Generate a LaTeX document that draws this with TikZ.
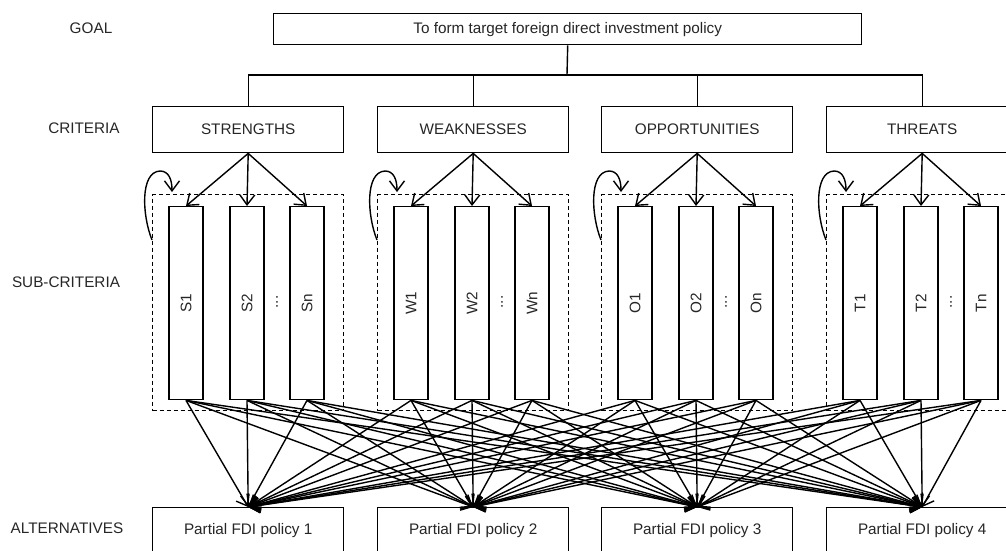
\documentclass[tikz,border=0pt]{standalone}
\usepackage{fontspec}
\setmainfont{Liberation Sans}
\usetikzlibrary{arrows.meta}
\begin{document}
\begin{tikzpicture}[x=1pt,y=-1pt,line width=1.4pt,
  txt/.style={font=\fontsize{15.3}{18}\selectfont,text=black!85},
  box/.style={draw,txt,minimum width=191pt,minimum height=46pt,inner sep=0pt,anchor=north west},
  sub/.style={draw,minimum width=34pt,minimum height=193pt,inner sep=0pt,anchor=north},
  sublbl/.style={txt,rotate=90,inner sep=0pt},
  lbl/.style={txt,inner sep=0pt},
  grp/.style={draw,dash pattern=on 4pt off 3pt,line width=1.3pt,minimum width=191pt,minimum height=216pt,inner sep=0pt,anchor=north west},
  arr/.style={-{Straight Barb[length=10pt,width=15pt]}}]
\useasboundingbox (0,0) rectangle (1006,550);
\clip (0,0) rectangle (1006,550);
% side labels
\node[lbl] (lgoal) at (91,28) {GOAL};
\node[lbl] (lcrit) at (84,128) {CRITERIA};
\node[lbl] (lsub) at (66,282) {SUB-CRITERIA};
\node[lbl] (lalt) at (67,528) {ALTERNATIVES};
% goal
\node[draw,txt,minimum width=588pt,minimum height=31pt,inner sep=0pt,anchor=north west] (goal) at (273,13) {To form target foreign direct investment policy};
\coordinate (bus) at (567,75);
% groups
\foreach \i/\L/\t/\c in {1/152/STRENGTHS/S,2/377/WEAKNESSES/W,3/601/OPPORTUNITIES/O,4/826/THREATS/T}{
  \node[box] (crit\i) at (\L,106) {\t};
  \node[grp] (g\i) at (\L,194) {};
  \node[sub] (s\i1) at (\L+34,206) {};
  \node[sub] (s\i2) at (\L+95,206) {};
  \node[sub] (s\i3) at (\L+155,206) {};
  \node[sublbl] (t\i1) at (s\i1.center) {\c1};
  \node[sublbl] (t\i2) at (s\i2.center) {\c2};
  \node[sublbl] (t\i3) at (s\i3.center) {\c n};
  \node[sublbl] (d\i) at (\L+125,302) {...};
  \draw[arr] (crit\i.south) -- (s\i1.north);
  \draw[arr] (crit\i.south) -- (s\i2.north);
  \draw[arr] (crit\i.south) -- (s\i3.north);
  \coordinate (ls\i) at (\L,240);
  \coordinate (le\i) at (\L+20,192);
  \draw[arr] (ls\i) .. controls (\L-10,215) and (\L-12,172) .. (\L+8,171) .. controls (\L+17,171) and (\L+20,180) .. (le\i);
  \node[box] (alt\i) at (\L,507) {Partial FDI policy \i};
}
% goal to criteria
\draw (goal.south) -- (bus);
\draw (crit1.north) -- (crit1.north |- bus) -- (crit4.north |- bus) -- (crit4.north);
\draw (crit2.north) -- (crit2.north |- bus);
\draw (crit3.north) -- (crit3.north |- bus);
% sub-criteria to alternatives
\foreach \i in {1,...,4}{
  \foreach \j in {1,2,3}{
    \foreach \k in {1,...,4}{
      \draw[arr] (s\i\j.south) -- (alt\k.north);
    }
  }
}
\end{tikzpicture}
\end{document}
